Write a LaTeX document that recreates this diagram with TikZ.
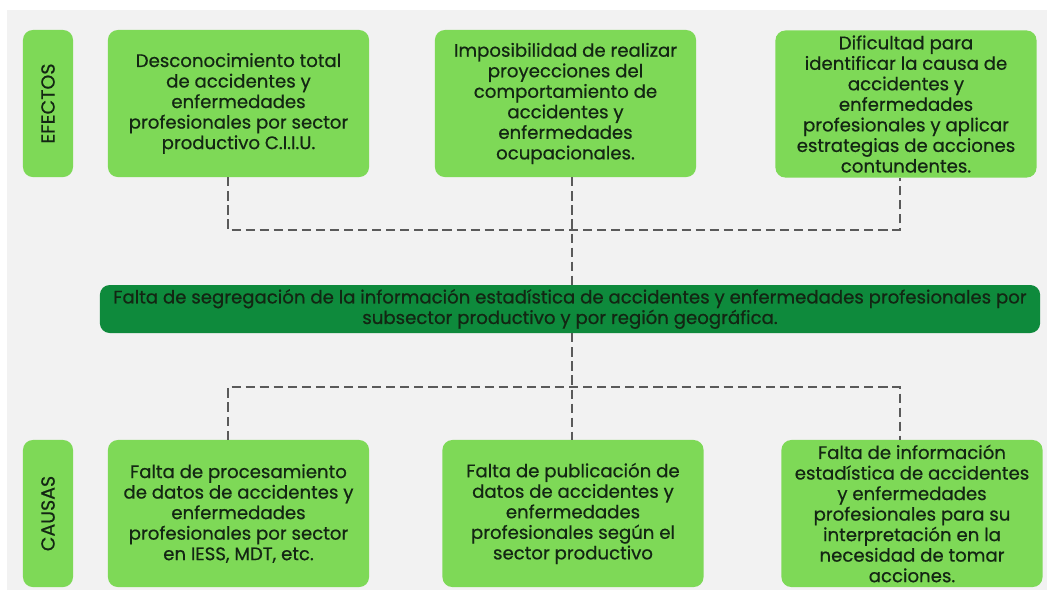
\documentclass[tikz,border=0pt]{standalone}
\usepackage{fontspec}
\setmainfont{Poppins}[FakeBold=0.6]
\usetikzlibrary{positioning,calc}
\definecolor{hoja}{HTML}{7ED957}
\definecolor{pino}{HTML}{0E8A3C}
\definecolor{fondo}{HTML}{F2F2F2}
\definecolor{tinta}{HTML}{132613}
\definecolor{guion}{HTML}{5A5A5A}
\tikzset{font=\fontsize{12.9}{14.6}\selectfont}

\begin{document}
\begin{tikzpicture}[x=0.025cm, y=-0.025cm]
	\tikzstyle{every node}=[align=center, inner sep=1pt, text=tinta]
	\tikzstyle{caja}=[fill=hoja, rounded corners=7pt, minimum width=6.525cm, minimum height=3.675cm]
	\tikzstyle{etiqueta}=[fill=hoja, rounded corners=7pt, rotate=90, minimum width=3.675cm, minimum height=1.25cm, font=\fontsize{13.5}{15}\selectfont]
	\tikzstyle{linea}=[dash pattern=on 6.5pt off 3.5pt, line width=1.3pt, draw=guion]
	\useasboundingbox (0,0) rectangle (1047,595);
	\fill[fondo] (7,10) rectangle (1047,590);

	% efectos
	\node[etiqueta] (efectos) at (48, 103.5) {EFECTOS};
	\node[caja] (e1) at (238.5, 103.5) {Desconocimiento total\\de accidentes y\\enfermedades\\profesionales por sector\\productivo C.I.I.U.};
	\node[caja] (e2) at (565.5, 103.5) {Imposibilidad de realizar\\proyecciones del\\comportamiento de\\accidentes y\\enfermedades\\ocupacionales.};
	\node[caja] (e3) at (906, 104) {Dificultad para\\identificar la causa de\\accidentes y\\enfermedades\\profesionales y aplicar\\estrategias de acciones\\contundentes.};

	% problema central
	\node[fill=pino, rounded corners=7pt, minimum width=23.5cm, minimum height=1.2cm] (main) at (570, 309)
		{Falta de segregación de la información estadística de accidentes y enfermedades profesionales por\\subsector productivo y por región geográfica.};

	% causas
	\node[etiqueta] (causas) at (48, 513.5) {CAUSAS};
	\node[caja] (c1) at (238.5, 513.5) {Falta de procesamiento\\de datos de accidentes y\\enfermedades\\profesionales por sector\\en IESS, MDT, etc.};
	\node[caja] (c2) at (573, 513.5) {Falta de publicación de\\datos de accidentes y\\enfermedades\\profesionales según el\\sector productivo};
	\node[caja] (c3) at (912, 513.5) {Falta de información\\estadística de accidentes\\y enfermedades\\profesionales para su\\interpretación en la\\necesidad de tomar\\acciones.};

	\coordinate (a1) at (228, 230);
	\coordinate (a2) at (572, 230);
	\coordinate (a3) at (900, 230);
	\coordinate (b1) at (228, 387);
	\coordinate (b2) at (572, 387);
	\coordinate (b3) at (900, 387);

	\draw[linea] (e1.south -| a1) -- (a1) -- (a3) -- (e3.south -| a3);
	\draw[linea] (e2.south -| a2) -- (main.north -| a2);
	\draw[linea] (main.south -| b2) -- (c2.north -| b2);
	\draw[linea] (c1.north -| b1) -- (b1) -- (b3) -- (c3.north -| b3);
\end{tikzpicture}
\end{document}
